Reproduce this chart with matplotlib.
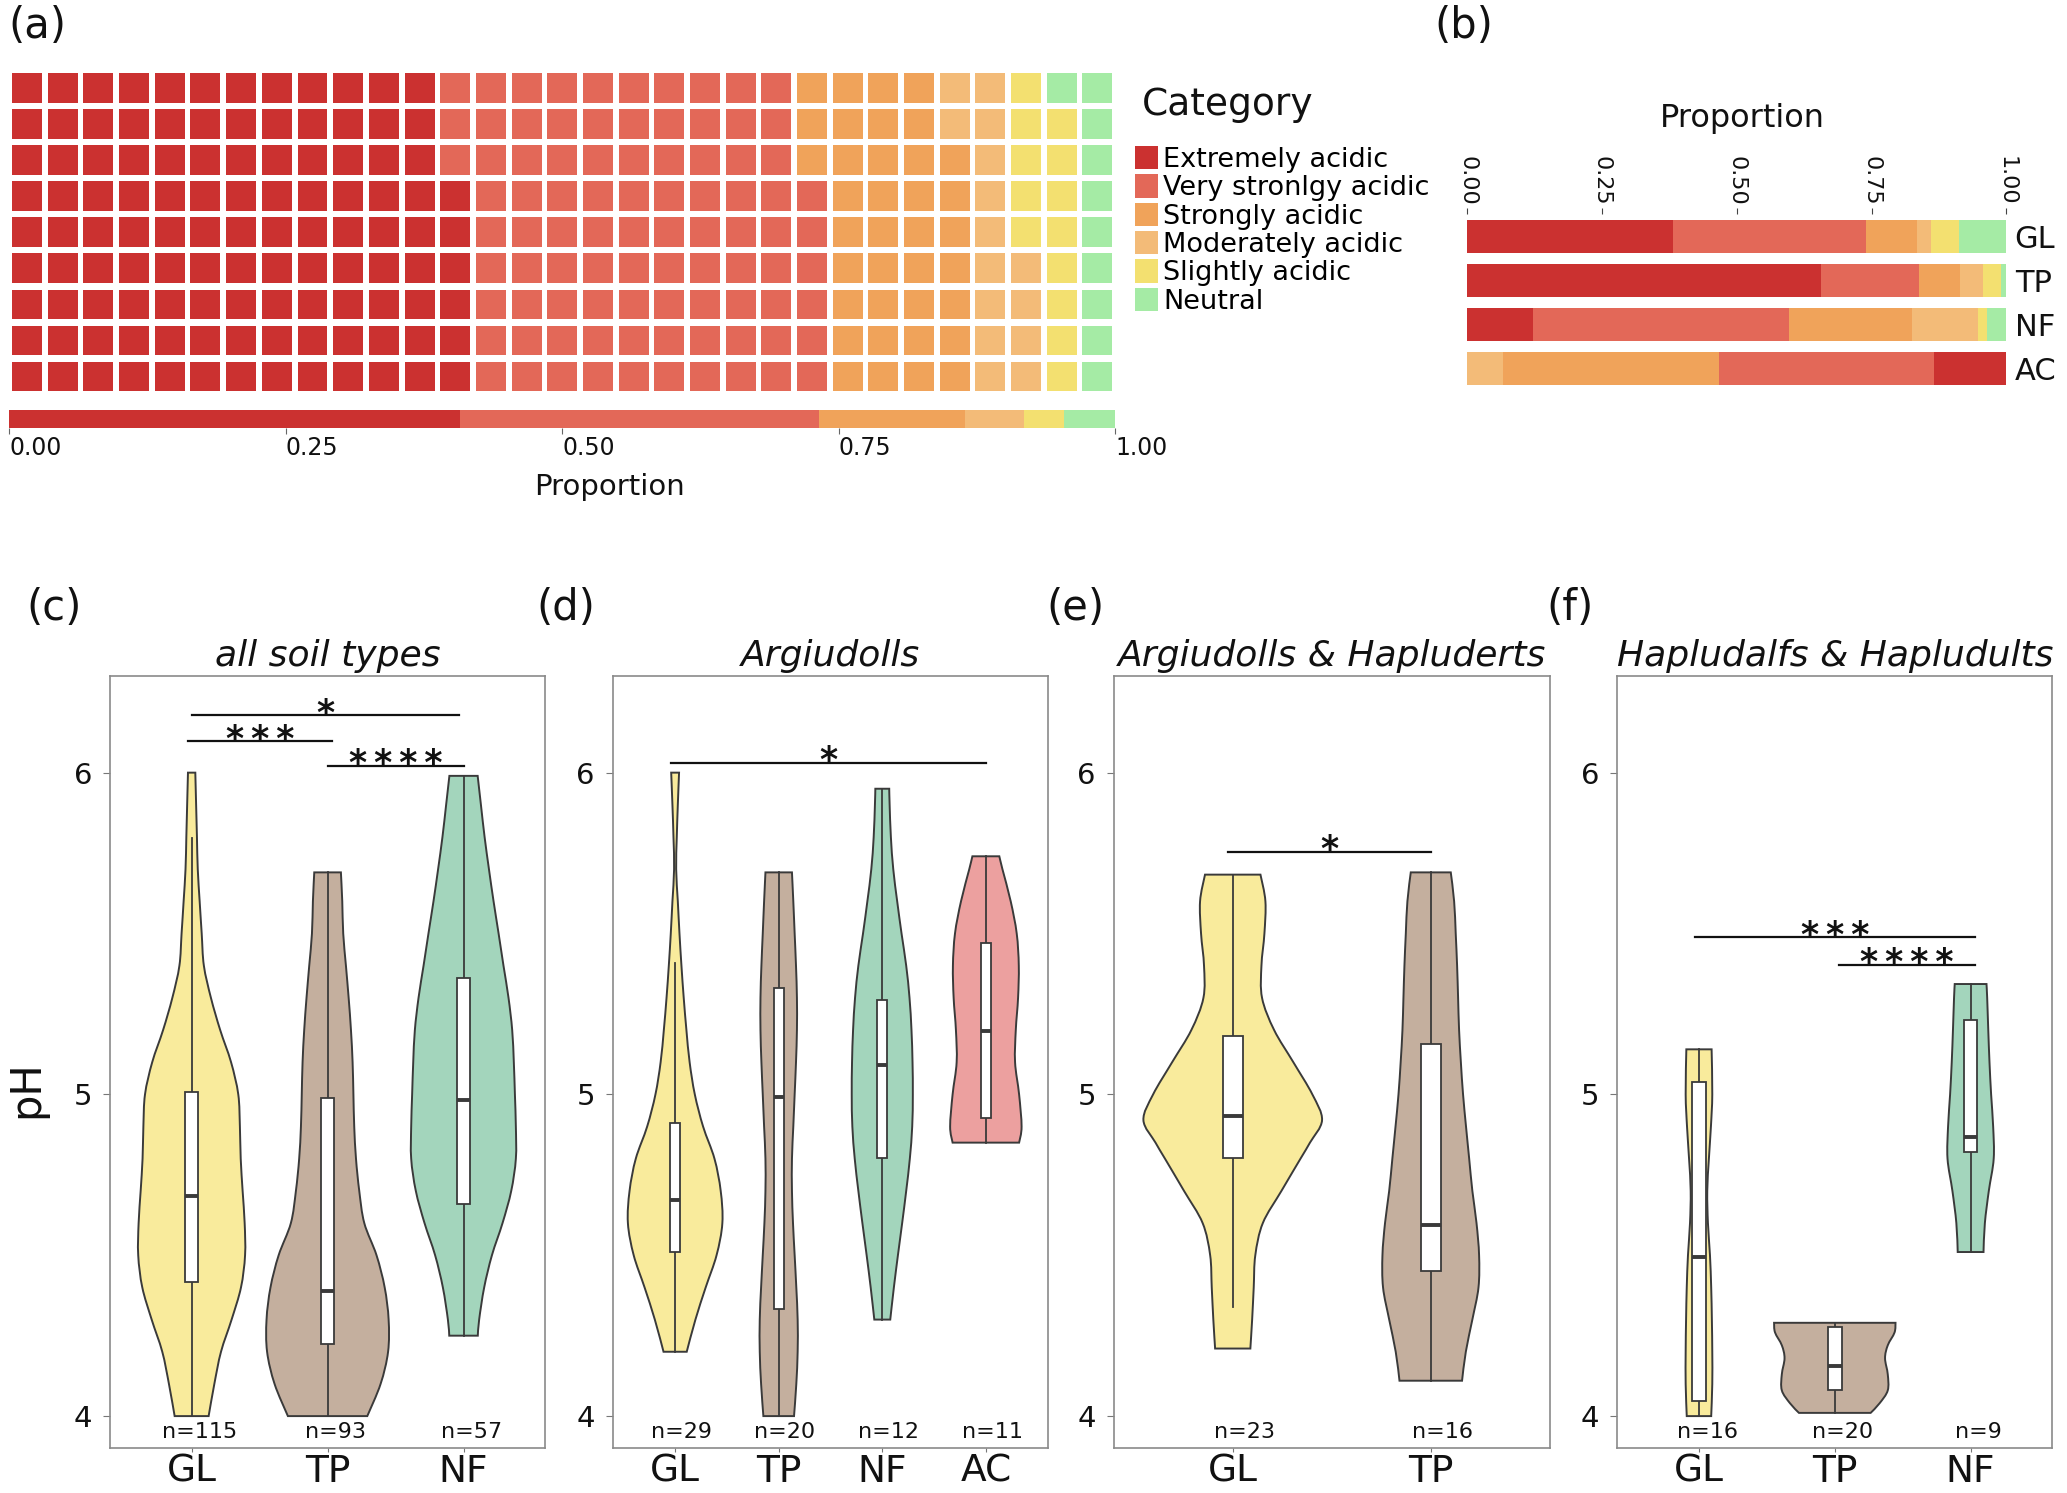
import matplotlib
matplotlib.use("Agg")
import matplotlib.pyplot as plt
from matplotlib.patches import Patch, PathPatch
from matplotlib.path import Path
import numpy as np

# ---------------- data ----------------
categories = ["Extremely acidic", "Very stronlgy acidic", "Strongly acidic",
              "Moderately acidic", "Slightly acidic", "Neutral"]
cat_colors = ["#CB3130", "#E36858", "#F0A35A", "#F3BB78", "#F3E070", "#A5EBA5"]

waffle_counts = [114, 90, 37, 15, 13, 10]
waffle_rows = 9
overall_counts = [114, 91, 37, 15, 10, 13]
prop_ticks = [0.0, 0.25, 0.5, 0.75, 1.0]
prop_ticklabels = ["0.00", "0.25", "0.50", "0.75", "1.00"]

landuse_b = ["GL", "TP", "NF", "AC"]
counts_GL = [44, 41, 11, 3, 6, 10]
counts_TP = [61, 17, 7, 4, 3, 1]
counts_NF = [7, 27, 13, 7, 1, 2]
counts_AC = [2, 6, 6, 1, 0, 0]
reverse_stack = [False, False, False, True]

lu_colors = {"GL": "#F9EB9C", "TP": "#C4AF9E", "NF": "#A3D5BC", "AC": "#ECA09F"}

# violin outlines: pH levels and half-widths (category units); box = [low whisker, q1, median, q3, high whisker]
c_GL_ph = [6.0, 5.9, 5.8, 5.7, 5.6, 5.5, 5.4, 5.3, 5.2, 5.1, 5.0, 4.9, 4.8, 4.7, 4.6, 4.5, 4.4, 4.3, 4.2, 4.1, 4.0]
c_GL_hw = [0.027, 0.033, 0.039, 0.045, 0.059, 0.074, 0.09, 0.142, 0.21, 0.29, 0.343, 0.355, 0.361, 0.375, 0.39, 0.393, 0.363, 0.294, 0.216, 0.167, 0.125]
c_GL_box = [4.0, 4.417, 4.684, 5.007, 5.797]
c_TP_ph = [5.69, 5.6, 5.5, 5.4, 5.3, 5.2, 5.1, 5.0, 4.9, 4.8, 4.7, 4.6, 4.5, 4.4, 4.3, 4.2, 4.1, 4.0]
c_TP_hw = [0.098, 0.108, 0.115, 0.135, 0.155, 0.172, 0.184, 0.19, 0.196, 0.209, 0.233, 0.27, 0.36, 0.42, 0.449, 0.445, 0.39, 0.292]
c_TP_box = [4.0, 4.223, 4.39, 4.988, 5.69]
c_NF_ph = [5.99, 5.9, 5.8, 5.7, 5.6, 5.5, 5.4, 5.3, 5.2, 5.1, 5.0, 4.9, 4.8, 4.7, 4.6, 4.5, 4.4, 4.3, 4.25]
c_NF_hw = [0.104, 0.128, 0.155, 0.187, 0.221, 0.258, 0.294, 0.331, 0.358, 0.37, 0.378, 0.385, 0.385, 0.351, 0.287, 0.209, 0.152, 0.115, 0.105]
c_NF_box = [4.25, 4.66, 4.984, 5.363, 5.99]

d_GL_ph = [6.0, 5.9, 5.8, 5.7, 5.6, 5.5, 5.4, 5.3, 5.2, 5.1, 5.0, 4.9, 4.8, 4.7, 4.6, 4.5, 4.4, 4.3, 4.2]
d_GL_hw = [0.038, 0.026, 0.016, 0.01, 0.026, 0.042, 0.061, 0.083, 0.109, 0.14, 0.19, 0.27, 0.38, 0.44, 0.456, 0.40, 0.295, 0.196, 0.112]
d_GL_box = [4.2, 4.509, 4.671, 4.91, 5.407]
d_TP_ph = [5.69, 5.6, 5.5, 5.4, 5.3, 5.2, 5.1, 5.0, 4.9, 4.8, 4.7, 4.6, 4.5, 4.4, 4.3, 4.2, 4.1, 4.0]
d_TP_hw = [0.128, 0.141, 0.154, 0.167, 0.176, 0.176, 0.167, 0.154, 0.141, 0.128, 0.128, 0.138, 0.154, 0.17, 0.183, 0.183, 0.17, 0.148]
d_TP_box = [4.0, 4.333, 4.992, 5.332, 5.69]
d_NF_ph = [5.95, 5.9, 5.8, 5.7, 5.6, 5.5, 5.4, 5.3, 5.2, 5.1, 5.0, 4.9, 4.8, 4.7, 4.6, 4.5, 4.4, 4.3]
d_NF_hw = [0.067, 0.071, 0.083, 0.106, 0.144, 0.186, 0.231, 0.263, 0.282, 0.292, 0.295, 0.289, 0.266, 0.231, 0.192, 0.151, 0.112, 0.077]
d_NF_box = [4.3, 4.801, 5.09, 5.293, 5.95]
d_AC_ph = [5.74, 5.7, 5.6, 5.5, 5.4, 5.3, 5.2, 5.1, 5.0, 4.9, 4.85]
d_AC_hw = [0.13, 0.16, 0.24, 0.298, 0.318, 0.311, 0.289, 0.282, 0.321, 0.345, 0.321]
d_AC_box = [4.85, 4.926, 5.196, 5.472, 5.74]

e_GL_ph = [5.683, 5.6, 5.5, 5.4, 5.3, 5.2, 5.1, 5.0, 4.92, 4.85, 4.8, 4.7, 4.6, 4.5, 4.4, 4.3, 4.21]
e_GL_hw = [0.14, 0.165, 0.16, 0.145, 0.148, 0.209, 0.306, 0.402, 0.451, 0.39, 0.342, 0.246, 0.152, 0.114, 0.106, 0.098, 0.089]
e_GL_box = [4.34, 4.801, 4.934, 5.18, 5.683]
e_TP_ph = [5.69, 5.6, 5.5, 5.4, 5.3, 5.2, 5.1, 5.0, 4.9, 4.8, 4.7, 4.6, 4.5, 4.4, 4.3, 4.2, 4.11]
e_TP_hw = [0.101, 0.118, 0.126, 0.133, 0.138, 0.143, 0.152, 0.163, 0.178, 0.194, 0.21, 0.231, 0.244, 0.241, 0.21, 0.177, 0.158]
e_TP_box = [4.11, 4.45, 4.595, 5.158, 5.69]

f_GL_ph = [5.14, 5.0, 4.9, 4.8, 4.7, 4.6, 4.5, 4.4, 4.3, 4.2, 4.1, 4.0]
f_GL_hw = [0.093, 0.098, 0.088, 0.073, 0.061, 0.066, 0.081, 0.09, 0.095, 0.098, 0.098, 0.09]
f_GL_box = [4.0, 4.048, 4.493, 5.04, 5.14]
f_TP_ph = [4.29, 4.26, 4.22, 4.18, 4.13, 4.08, 4.04, 4.01]
f_TP_hw = [0.447, 0.44, 0.39, 0.37, 0.39, 0.39, 0.33, 0.264]
f_TP_box = [4.01, 4.08, 4.156, 4.278, 4.29]
f_NF_ph = [5.343, 5.3, 5.2, 5.1, 5.0, 4.9, 4.8, 4.7, 4.6, 4.51]
f_NF_hw = [0.117, 0.122, 0.13, 0.139, 0.151, 0.166, 0.17, 0.134, 0.105, 0.095]
f_NF_box = [4.51, 4.82, 4.868, 5.23, 5.343]

c_n = [115, 93, 57]
d_n = [29, 20, 12, 11]
e_n = [23, 16]
f_n = [16, 20, 9]

c_sig = [(1.0, 2.97, 6.178, "*"), (0.975, 2.035, 6.097, "***"), (2.0, 3.0, 6.022, "****")]
d_sig = [(0.96, 4.0, 6.03, "*")]
e_sig = [(0.975, 2.0, 5.753, "*")]
f_sig = [(0.97, 3.03, 5.488, "***"), (2.03, 3.03, 5.402, "****")]

# ---------------- layout helpers ----------------
W, H = 1568.0, 1135.0
def rect(x0, y0, x1, y1):
    return [x0 / W, 1 - y1 / H, (x1 - x0) / W, (y1 - y0) / H]
def fx(x):
    return x / W
def fy(y):
    return 1 - y / H

fig = plt.figure(figsize=(20.67, 14.93), dpi=100)
fig.patch.set_facecolor("white")
TXT = "#111111"

# ---------------- (a) waffle ----------------
axw = fig.add_axes(rect(7, 53, 846, 300))
total = sum(waffle_counts)
ncols = int(np.ceil(total / waffle_rows))
cell_cat = np.repeat(np.arange(len(waffle_counts)), waffle_counts)
idx = np.arange(total)
cols = idx // waffle_rows
rows = idx % waffle_rows
for k, color in enumerate(cat_colors):
    m = cell_cat == k
    axw.bar(cols[m] + 0.5, 0.82, bottom=rows[m] + 0.09, width=0.84, color=color, linewidth=0)
axw.set_xlim(0, ncols)
axw.set_ylim(0, waffle_rows)
axw.axis("off")

axb = fig.add_axes(rect(7, 312, 846, 325))
props = np.array(overall_counts, float) / sum(overall_counts)
lefts = np.concatenate([[0.0], np.cumsum(props)[:-1]])
axb.barh(0, props, left=lefts, height=1.0, color=cat_colors, linewidth=0)
axb.set_xlim(0, 1)
axb.set_ylim(-0.5, 0.5)
axb.set_yticks([])
axb.set_xticks(prop_ticks)
axb.set_xticklabels(prop_ticklabels, ha="left", fontsize=17, color=TXT)
axb.tick_params(axis="x", length=4, color="#666666", pad=2)
for s in axb.spines.values():
    s.set_visible(False)
fig.text(fx(462), fy(370), "Proportion", fontsize=21, ha="center", va="center", color=TXT)
fig.text(fx(6), fy(20), "(a)", fontsize=30, ha="left", va="center", color=TXT)

fig.text(fx(866), fy(80), "Category", fontsize=27, ha="left", va="center", color=TXT)
handles = [Patch(facecolor=c, edgecolor="none") for c in cat_colors]
leg = fig.legend(handles, categories, loc="upper left", bbox_to_anchor=(fx(861), fy(111)),
                 frameon=False, fontsize=19.5,
                 borderpad=0, borderaxespad=0, handletextpad=0.2, labelspacing=0.05,
                 handlelength=0.85, handleheight=0.95)

# ---------------- (b) stacked bars ----------------
axp = fig.add_axes(rect(1113, 163, 1522, 297))
b_counts = [counts_GL, counts_TP, counts_NF, counts_AC]
for i, counts in enumerate(b_counts):
    p = np.array(counts, float) / sum(counts)
    order = list(range(len(p)))
    if reverse_stack[i]:
        order = order[::-1]
    lefts_i = np.concatenate([[0.0], np.cumsum(p[order])[:-1]])
    axp.barh([i] * len(order), p[order], left=lefts_i, height=0.74,
             color=[cat_colors[k] for k in order], linewidth=0)
axp.set_xlim(0, 1)
axp.set_ylim(len(landuse_b) - 0.5, -0.5)
axp.xaxis.tick_top()
axp.set_xticks(prop_ticks)
axp.set_xticklabels(prop_ticklabels, rotation=-90, fontsize=16, color=TXT)
axp.tick_params(axis="x", length=4, color="#444444", pad=2)
axp.yaxis.tick_right()
axp.set_yticks(range(len(landuse_b)))
axp.set_yticklabels(landuse_b, fontsize=22, color=TXT)
axp.tick_params(axis="y", length=0, pad=6)
for s in axp.spines.values():
    s.set_visible(False)
fig.text(fx(1322), fy(90), "Proportion", fontsize=23, ha="center", va="center", color=TXT)
fig.text(fx(1088), fy(20), "(b)", fontsize=30, ha="left", va="center", color=TXT)

# ---------------- violin panels ----------------
EDGE = "#3a3a3a"

def smooth_segments(P):
    """Cubic Bezier pieces passing through every given outline point (Catmull-Rom)."""
    verts, n = [], len(P)
    for i in range(n - 1):
        p0 = P[i - 1] if i > 0 else P[i]
        p1, p2 = P[i], P[i + 1]
        p3 = P[i + 2] if i + 2 < n else P[i + 1]
        verts += [p1 + (p2 - p0) / 6.0, p2 - (p3 - p1) / 6.0, p2]
    return verts

def draw_violin(ax, pos, ph, hw, bx, color):
    ph = np.asarray(ph, float); hw = np.asarray(hw, float)
    left = np.column_stack([pos - hw, ph])
    right = np.column_stack([pos + hw, ph])[::-1]
    verts = [left[0]] + smooth_segments(left) + [right[0]] + smooth_segments(right) + [left[0]]
    codes = ([Path.MOVETO] + [Path.CURVE4] * (3 * (len(left) - 1)) + [Path.LINETO]
             + [Path.CURVE4] * (3 * (len(right) - 1)) + [Path.CLOSEPOLY])
    ax.add_patch(PathPatch(Path(verts, codes), facecolor=color, edgecolor=EDGE,
                           linewidth=1.4, zorder=2))
    lo, q1, med, q3, hi = bx
    ax.plot([pos, pos], [lo, hi], color=EDGE, linewidth=1.3, zorder=3)
    ax.bar(pos, q3 - q1, bottom=q1, width=0.1, color="white", edgecolor=EDGE,
           linewidth=1.3, zorder=4)
    ax.plot([pos - 0.05, pos + 0.05], [med, med], color=EDGE, linewidth=2.8, zorder=5,
            solid_capstyle="butt")

panels = [
    dict(rect=(83.5, 514, 413.5, 1101), cats=["GL", "TP", "NF"],
         violins=[(c_GL_ph, c_GL_hw, c_GL_box), (c_TP_ph, c_TP_hw, c_TP_box), (c_NF_ph, c_NF_hw, c_NF_box)],
         n=c_n, sig=c_sig, title="all soil types", label="(c)", lab_x=20),
    dict(rect=(465, 514, 795, 1101), cats=["GL", "TP", "NF", "AC"],
         violins=[(d_GL_ph, d_GL_hw, d_GL_box), (d_TP_ph, d_TP_hw, d_TP_box),
                  (d_NF_ph, d_NF_hw, d_NF_box), (d_AC_ph, d_AC_hw, d_AC_box)],
         n=d_n, sig=d_sig, title="Argiudolls", label="(d)", lab_x=407),
    dict(rect=(845, 514, 1175.5, 1101), cats=["GL", "TP"],
         violins=[(e_GL_ph, e_GL_hw, e_GL_box), (e_TP_ph, e_TP_hw, e_TP_box)],
         n=e_n, sig=e_sig, title="Argiudolls & Hapluderts", label="(e)", lab_x=794),
    dict(rect=(1227, 514, 1556.7, 1101), cats=["GL", "TP", "NF"],
         violins=[(f_GL_ph, f_GL_hw, f_GL_box), (f_TP_ph, f_TP_hw, f_TP_box), (f_NF_ph, f_NF_hw, f_NF_box)],
         n=f_n, sig=f_sig, title="Hapludalfs & Hapludults", label="(f)", lab_x=1173),
]

for P in panels:
    ax = fig.add_axes(rect(*P["rect"]))
    ncat = len(P["cats"])
    positions = np.arange(1, ncat + 1)
    for pos, cat, (ph, hw, bx), n in zip(positions, P["cats"], P["violins"], P["n"]):
        draw_violin(ax, pos, ph, hw, bx, lu_colors[cat])
        ax.text(pos + 0.06, 3.952, f"n={n}", ha="center", va="center", fontsize=16, color=TXT)
    for x1, x2, y, lab in P["sig"]:
        ax.plot([x1, x2], [y, y], color="#111111", linewidth=1.6, zorder=3)
        ax.annotate("\u2009".join(lab), xy=((x1 + x2) / 2, y), xytext=(0, -6),
                    textcoords="offset points", ha="center", va="baseline",
                    fontsize=25, fontweight="bold", color="#111111")
    ax.set_xlim(0.4, ncat + 0.6)
    ax.set_ylim(3.90, 6.30)
    ax.set_xticks(positions)
    ax.set_xticklabels(P["cats"], fontsize=27, color=TXT)
    ax.set_yticks([4, 5, 6])
    ax.set_yticklabels(["4", "5", "6"], fontsize=21, color=TXT)
    ax.tick_params(axis="y", length=5, color="#777777", pad=8)
    ax.tick_params(axis="x", length=3, color="#777777", pad=1)
    for s in ax.spines.values():
        s.set_color("#8a8a8a")
        s.set_linewidth(1.2)
    ax.set_title(P["title"], fontsize=26, style="italic", color=TXT, pad=7)
    fig.text(fx(P["lab_x"]), fy(462), P["label"], fontsize=30, ha="left", va="center", color=TXT)

fig.text(fx(20), fy(828), "pH", fontsize=30, rotation=90, ha="center", va="center", color=TXT)

fig.savefig("out.png", dpi=100, facecolor="white")
